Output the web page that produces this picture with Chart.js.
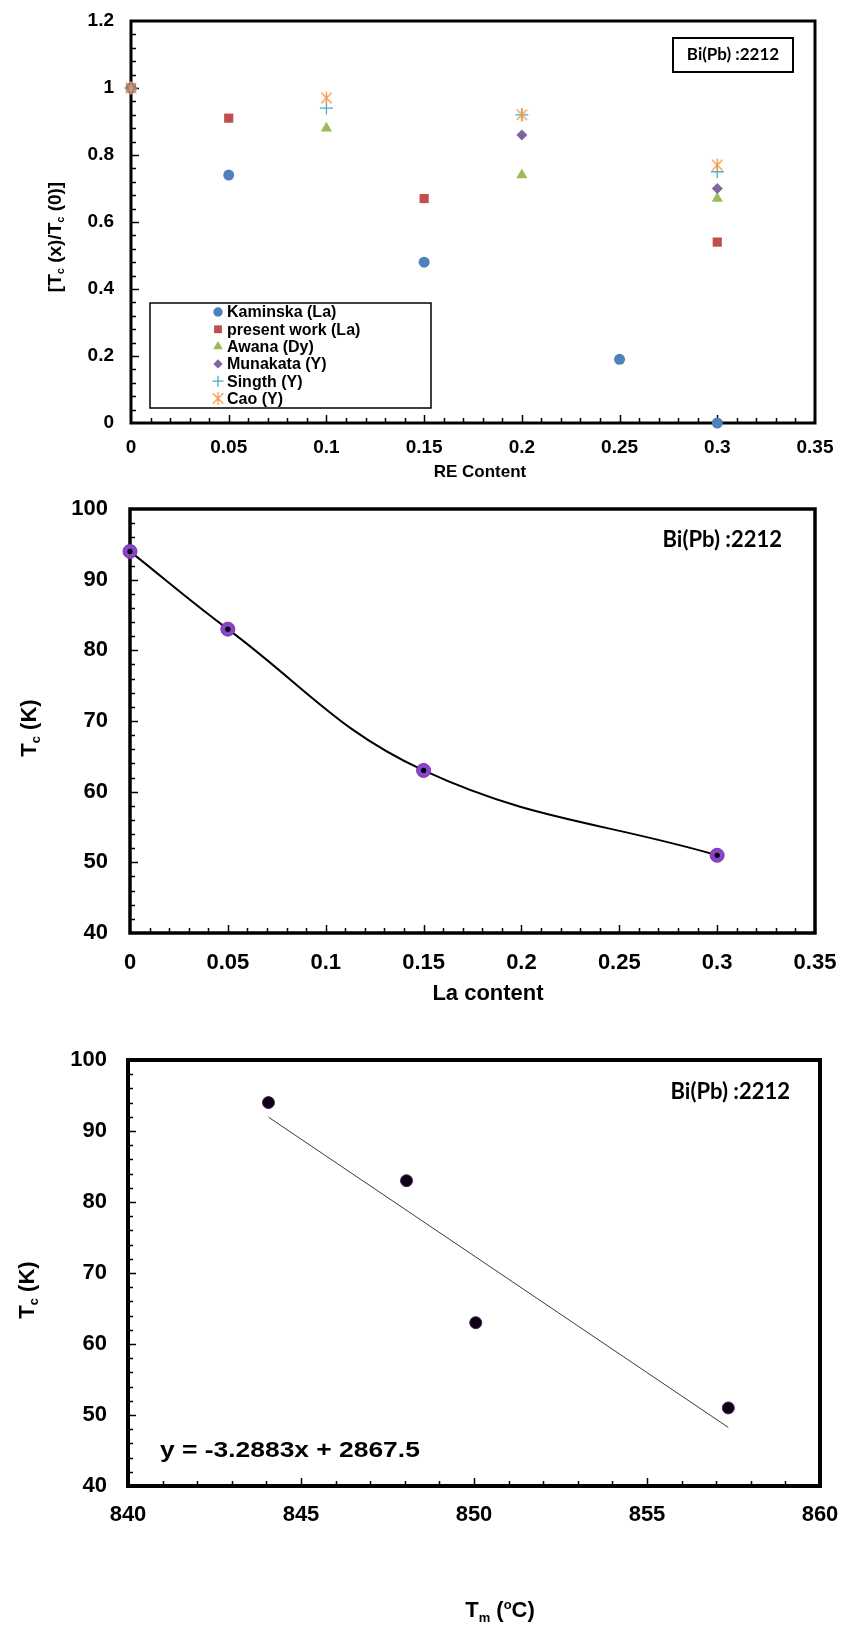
<!DOCTYPE html>
<html><head><meta charset="utf-8">
<script src="https://cdn.jsdelivr.net/npm/chart.js@4.4.0/dist/chart.umd.min.js"></script>
<style>
html,body{margin:0;padding:0;background:#fff;}
#wrap{position:relative;width:846px;height:1631px;background:#fff;overflow:hidden;}
canvas{position:absolute;left:0;}
</style></head><body>
<div id="wrap">
<canvas id="c1" width="846" height="490" style="top:0px"></canvas>
<canvas id="c2" width="846" height="530" style="top:490px"></canvas>
<canvas id="c3" width="846" height="611" style="top:1020px"></canvas>
</div>
<script>
// ---------- DATA ----------
// Chart 1: normalized Tc vs RE content
const seriesNames = ['Kaminska (La)', 'present work (La)', 'Awana (Dy)', 'Munakata (Y)', 'Singth (Y)', 'Cao (Y)'];
const reX_Kaminska = [0, 0.05, 0.15, 0.25, 0.3];
const tcRatio_Kaminska = [1, 0.74, 0.48, 0.19, 0];
const reX_Present = [0, 0.05, 0.15, 0.3];
const tcRatio_Present = [1, 0.91, 0.67, 0.54];
const reX_Awana = [0, 0.1, 0.2, 0.3];
const tcRatio_Awana = [1, 0.88, 0.74, 0.67];
const reX_Munakata = [0, 0.2, 0.3];
const tcRatio_Munakata = [1, 0.86, 0.70];
const reX_Singth = [0, 0.1, 0.2, 0.3];
const tcRatio_Singth = [1, 0.94, 0.92, 0.75];
const reX_Cao = [0, 0.1, 0.2, 0.3];
const tcRatio_Cao = [1, 0.97, 0.92, 0.77];

// Chart 2: Tc vs La content
const laContent = [0, 0.05, 0.15, 0.3];
const tcKelvin = [94, 83, 63, 51];

// Chart 3: Tc vs melting temperature, with linear trendline
const meltTemp = [844.06, 848.05, 850.05, 857.35];
const tcVsTm = [94, 83, 63, 51];
const trendTm = [844.06, 857.35];
const trendTc = [91.95, 48.25];
const trendEquation = 'y = -3.2883x + 2867.5';
const sampleLabel = 'Bi(Pb) :2212';

// ---------- HELPERS ----------
const FONT = '"Liberation Sans", Arial, sans-serif';
const CAL = 'Lato, "Open Sans", sans-serif';
const pts = (xs, ys) => xs.map((x, i) => ({x: x, y: ys[i]}));
const fmt = (v) => String(Math.round(v * 10000) / 10000);

function makeAsterisk(color, s) {
  const c = document.createElement('canvas');
  c.width = s; c.height = s;
  const g = c.getContext('2d');
  g.strokeStyle = color; g.lineWidth = 1.3;
  const m = s / 2, r = s / 2 - 1;
  g.beginPath();
  g.moveTo(m, m - r); g.lineTo(m, m + r);
  g.moveTo(m - r * 0.8, m - r * 0.8); g.lineTo(m + r * 0.8, m + r * 0.8);
  g.moveTo(m + r * 0.8, m - r * 0.8); g.lineTo(m - r * 0.8, m + r * 0.8);
  g.stroke();
  return c;
}

// draw mixed text: parts = [{t, size, dy}]
function drawRich(ctx, parts, x, y, align, weight, family) {
  let w = 0;
  parts.forEach(p => { ctx.font = weight + ' ' + p.size + 'px ' + family; p.w = ctx.measureText(p.t).width; w += p.w; });
  let cx = align === 'center' ? x - w / 2 : (align === 'right' ? x - w : x);
  ctx.textAlign = 'left'; ctx.textBaseline = 'middle';
  parts.forEach(p => { ctx.font = weight + ' ' + p.size + 'px ' + family; ctx.fillText(p.t, cx, y + (p.dy || 0)); cx += p.w; });
}

const frameTicks = {
  id: 'frameTicks',
  beforeDatasetsDraw(chart, args, o) {
    const {ctx, chartArea: a} = chart;
    const xs = chart.scales.x, ys = chart.scales.y;
    ctx.save();
    ctx.strokeStyle = '#000';
    ctx.lineWidth = o.tickWidth;
    const nx = Math.round((xs.max - xs.min) / o.xMinor);
    for (let i = 1; i < nx; i++) {
      const px = Math.round(xs.getPixelForValue(xs.min + i * o.xMinor)) + 0.5;
      const len = (i % o.xRatio === 0) ? o.major : o.minor;
      ctx.beginPath(); ctx.moveTo(px, a.bottom); ctx.lineTo(px, a.bottom - len); ctx.stroke();
    }
    const ny = Math.round((ys.max - ys.min) / o.yMinor);
    for (let i = 1; i < ny; i++) {
      const py = Math.round(ys.getPixelForValue(ys.min + i * o.yMinor)) + 0.5;
      const len = (i % o.yRatio === 0) ? o.major : o.minor;
      ctx.beginPath(); ctx.moveTo(a.left, py); ctx.lineTo(a.left + len, py); ctx.stroke();
    }
    ctx.lineWidth = o.frame;
    ctx.strokeRect(a.left, a.top, a.right - a.left, a.bottom - a.top);
    ctx.restore();
  }
};

// invisible "ticks" are used only as spacing between axis and labels
function axes(o) {
  const hiddenGrid = (len) => ({display: true, drawOnChartArea: false, drawTicks: true, tickLength: len, tickColor: 'rgba(0,0,0,0)'});
  return {
    x: {
      type: 'linear', min: o.xMin, max: o.xMax,
      ticks: {stepSize: o.xStep, color: '#000', font: {family: FONT, weight: 'bold', size: o.fs}, padding: 0, maxRotation: 0, autoSkip: false, callback: fmt},
      grid: hiddenGrid(o.xPad), border: {display: false},
      afterFit(s) { s.height = o.H - o.B; }
    },
    y: {
      type: 'linear', min: o.yMin, max: o.yMax,
      ticks: {stepSize: o.yStep, color: '#000', font: {family: FONT, weight: 'bold', size: o.fs}, padding: 0, autoSkip: false, callback: fmt},
      grid: hiddenGrid(o.yPad), border: {display: false},
      afterFit(s) { s.width = o.L; }
    }
  };
}

const baseOpts = (o) => ({
  responsive: false, animation: false, events: [],
  layout: {padding: {top: o.T, right: 846 - o.R, left: 0, bottom: 0}},
  scales: axes(o),
  plugins: {legend: {display: false}, tooltip: {enabled: false},
    frameTicks: {frame: o.frame, tickWidth: 1.5, major: 8, minor: 5, xMinor: o.xMinor, xRatio: o.xRatio, yMinor: o.yMinor, yRatio: o.yRatio}}
});

// ---------- CHART 1 ----------
const colors1 = ['#4F81BD', '#C0504D', '#9BBB59', '#8064A2', '#4BACC6', '#F79646'];
const caoImg = makeAsterisk('#F79646', 15);
const ds1 = [
  {label: seriesNames[0], data: pts(reX_Kaminska, tcRatio_Kaminska), pointStyle: 'circle', pointRadius: 5.5, backgroundColor: colors1[0], borderColor: colors1[0], borderWidth: 0},
  {label: seriesNames[1], data: pts(reX_Present, tcRatio_Present), pointStyle: 'rect', pointRadius: 6.5, backgroundColor: colors1[1], borderColor: colors1[1], borderWidth: 0},
  {label: seriesNames[2], data: pts(reX_Awana, tcRatio_Awana), pointStyle: 'triangle', pointRadius: 6.5, backgroundColor: colors1[2], borderColor: colors1[2], borderWidth: 0},
  {label: seriesNames[3], data: pts(reX_Munakata, tcRatio_Munakata), pointStyle: 'rectRot', pointRadius: 5.5, backgroundColor: colors1[3], borderColor: colors1[3], borderWidth: 0},
  {label: seriesNames[4], data: pts(reX_Singth, tcRatio_Singth), pointStyle: 'cross', pointRadius: 6.5, backgroundColor: colors1[4], borderColor: colors1[4], borderWidth: 1.3},
  {label: seriesNames[5], data: pts(reX_Cao, tcRatio_Cao), pointStyle: caoImg, pointRadius: 7, backgroundColor: colors1[5], borderColor: colors1[5], borderWidth: 1}
];
ds1.forEach((d, i) => { d.order = ds1.length - i; d.clip = false; });

const c1Geom = {H: 490, L: 131, T: 21, R: 815, B: 423, xMin: 0, xMax: 0.35, xStep: 0.05, yMin: 0, yMax: 1.2, yStep: 0.2,
  fs: 19, xPad: 13, yPad: 17, frame: 3, xMinor: 0.01, xRatio: 5, yMinor: 0.04, yRatio: 5};

const c1Text = {
  id: 'c1Text',
  afterDraw(chart) {
    const ctx = chart.ctx;
    ctx.save();
    // legend box
    ctx.fillStyle = '#fff';
    ctx.fillRect(150, 303, 281, 105);
    ctx.strokeStyle = '#000'; ctx.lineWidth = 1.5;
    ctx.strokeRect(150, 303, 281, 105);
    chart.data.datasets.forEach((d, i) => {
      const y = 312 + i * 17.3;
      ctx.fillStyle = d.backgroundColor; ctx.strokeStyle = d.borderColor; ctx.lineWidth = d.borderWidth || 1;
      Chart.helpers.drawPoint(ctx, {pointStyle: d.pointStyle, radius: d.pointRadius * 0.85, borderWidth: d.borderWidth, rotation: 0}, 218, y);
      ctx.fillStyle = '#000';
      ctx.font = 'bold 16px ' + FONT; ctx.textAlign = 'left'; ctx.textBaseline = 'middle';
      ctx.fillText(d.label, 227, y + 1);
    });
    // sample label box
    ctx.fillStyle = '#fff';
    ctx.fillRect(673, 38, 120, 34);
    ctx.strokeStyle = '#000'; ctx.lineWidth = 2;
    ctx.strokeRect(673, 38, 120, 34);
    ctx.fillStyle = '#000';
    ctx.font = 'bold 17px ' + CAL; ctx.textAlign = 'center'; ctx.textBaseline = 'middle';
    ctx.fillText(sampleLabel, 733, 55);
    // axis titles
    ctx.font = 'bold 17px ' + FONT; ctx.textAlign = 'center';
    ctx.fillText('RE Content', 480, 472);
    ctx.translate(56, 237); ctx.rotate(-Math.PI / 2);
    drawRich(ctx, [{t: '[T', size: 19}, {t: 'c', size: 11, dy: 5}, {t: ' (x)/T', size: 19}, {t: 'c', size: 11, dy: 5}, {t: ' (0)]', size: 19}], 0, 0, 'center', 'bold', FONT);
    ctx.restore();
  }
};

new Chart(document.getElementById('c1'), {
  type: 'scatter',
  data: {datasets: ds1},
  options: baseOpts(c1Geom),
  plugins: [frameTicks, c1Text]
});

// ---------- CHART 2 ----------  (canvas top = 490)
const c2Geom = {H: 530, L: 130, T: 19, R: 815, B: 443, xMin: 0, xMax: 0.35, xStep: 0.05, yMin: 40, yMax: 100, yStep: 10,
  fs: 22, xPad: 17, yPad: 22, frame: 3.5, xMinor: 0.01, xRatio: 5, yMinor: 2, yRatio: 5};
const c2Text = {
  id: 'c2Text',
  afterDraw(chart) {
    const ctx = chart.ctx;
    ctx.save();
    ctx.fillStyle = '#000';
    ctx.font = 'bold 22px ' + CAL; ctx.textAlign = 'right'; ctx.textBaseline = 'middle';
    ctx.fillText(sampleLabel, 782, 50);
    ctx.font = 'bold 22px ' + FONT; ctx.textAlign = 'center';
    ctx.fillText('La content', 488, 504);
    ctx.translate(30, 238); ctx.rotate(-Math.PI / 2);
    drawRich(ctx, [{t: 'T', size: 22}, {t: 'c', size: 13, dy: 6}, {t: ' (K)', size: 22}], 0, 0, 'center', 'bold', FONT);
    ctx.restore();
  }
};
new Chart(document.getElementById('c2'), {
  type: 'scatter',
  data: {datasets: [
    {label: 'centers', data: pts(laContent, tcKelvin), pointStyle: 'circle', pointRadius: 2.6, backgroundColor: '#000', borderWidth: 0, showLine: false, order: 0, clip: false},
    {label: 'Tc', data: pts(laContent, tcKelvin), showLine: true, tension: 0.4, borderColor: '#000', borderWidth: 2,
     pointStyle: 'circle', pointRadius: 7, pointBackgroundColor: '#8a44c8', pointBorderColor: '#7733b3', pointBorderWidth: 1, order: 1, clip: false}
  ]},
  options: baseOpts(c2Geom),
  plugins: [frameTicks, c2Text]
});

// ---------- CHART 3 ----------  (canvas top = 1020)
const c3Geom = {H: 611, L: 128, T: 40, R: 820, B: 466, xMin: 840, xMax: 860, xStep: 5, yMin: 40, yMax: 100, yStep: 10,
  fs: 22, xPad: 16, yPad: 21, frame: 4, xMinor: 1, xRatio: 5, yMinor: 2, yRatio: 5};
const c3Text = {
  id: 'c3Text',
  afterDraw(chart) {
    const ctx = chart.ctx;
    ctx.save();
    ctx.fillStyle = '#000';
    ctx.font = 'bold 22px ' + CAL; ctx.textAlign = 'right'; ctx.textBaseline = 'middle';
    ctx.fillText(sampleLabel, 790, 72);
    // trendline equation (slightly stretched, like the original)
    ctx.save();
    ctx.translate(160, 431); ctx.scale(1.2, 1);
    ctx.font = 'bold 22px ' + FONT; ctx.textAlign = 'left'; ctx.textBaseline = 'middle';
    ctx.fillText(trendEquation, 0, 0);
    ctx.restore();
    drawRich(ctx, [{t: 'T', size: 22}, {t: 'm', size: 13, dy: 7}, {t: ' (', size: 22}, {t: 'o', size: 13, dy: -6}, {t: 'C)', size: 22}], 500, 591, 'center', 'bold', FONT);
    ctx.translate(28, 270); ctx.rotate(-Math.PI / 2);
    drawRich(ctx, [{t: 'T', size: 22}, {t: 'c', size: 13, dy: 6}, {t: ' (K)', size: 22}], 0, 0, 'center', 'bold', FONT);
    ctx.restore();
  }
};
new Chart(document.getElementById('c3'), {
  type: 'scatter',
  data: {datasets: [
    {label: 'Tc', data: pts(meltTemp, tcVsTm), pointStyle: 'circle', pointRadius: 6, backgroundColor: '#0d0014', borderColor: '#4b2063', borderWidth: 1, showLine: false, order: 0, clip: false},
    {label: 'Linear', data: pts(trendTm, trendTc), showLine: true, borderColor: '#3a3a3a', borderWidth: 1, pointRadius: 0, order: 1, clip: false}
  ]},
  options: baseOpts(c3Geom),
  plugins: [frameTicks, c3Text]
});
</script>
</body></html>
